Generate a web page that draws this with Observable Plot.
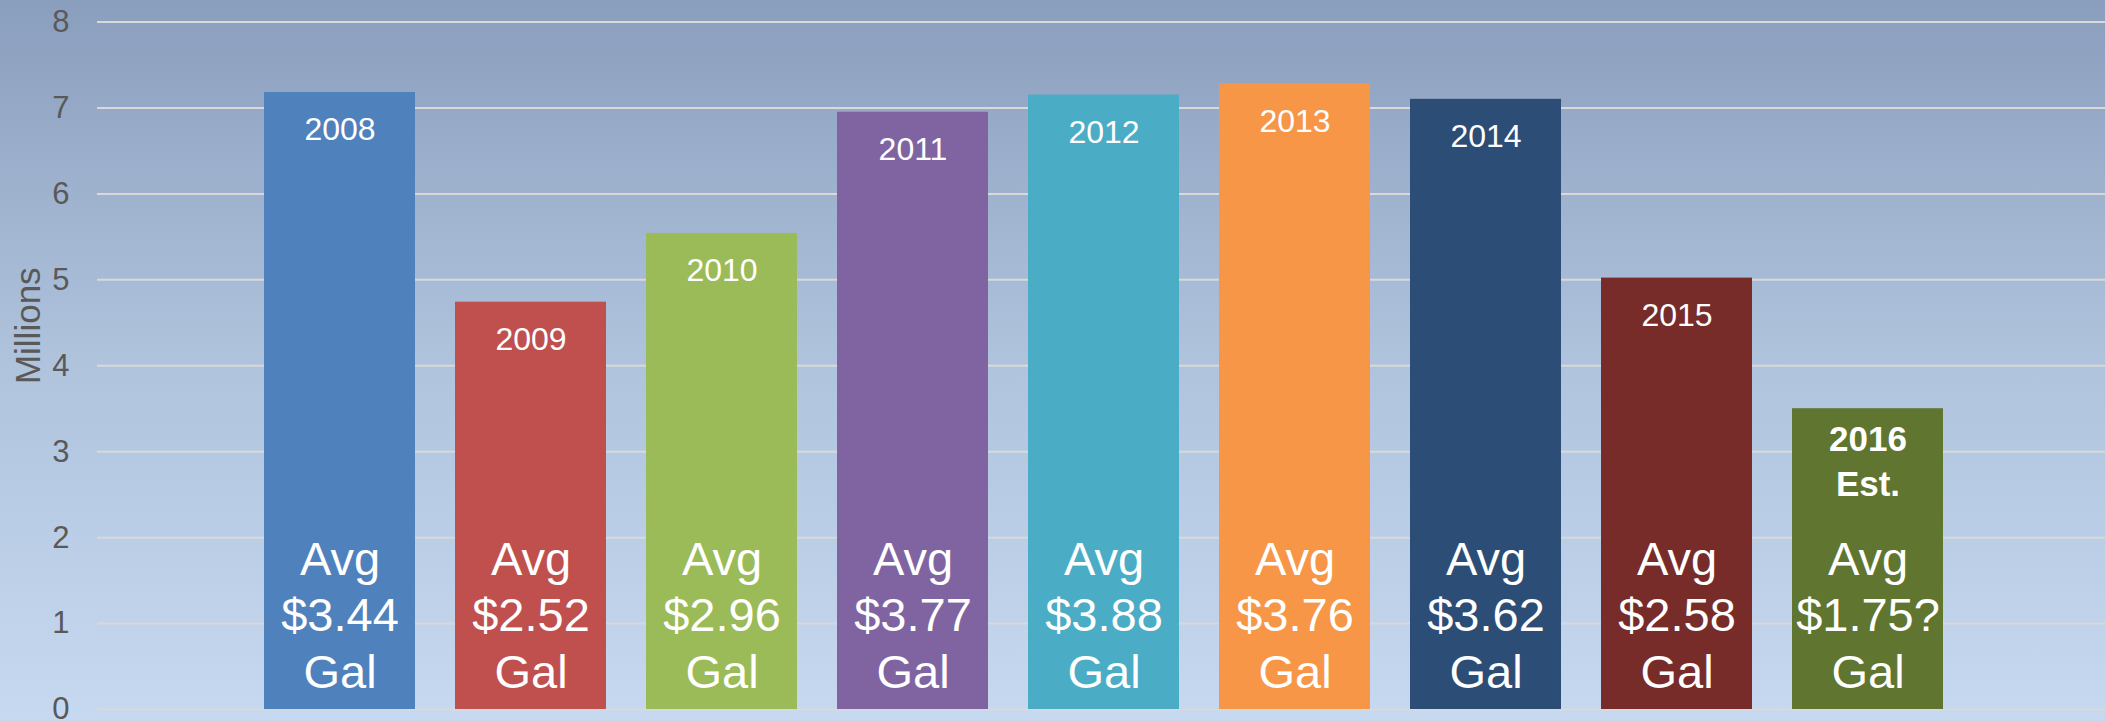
<!DOCTYPE html>
<html>
<head>
<meta charset="utf-8">
<script src="https://cdn.jsdelivr.net/npm/d3@7"></script>
<script src="https://cdn.jsdelivr.net/npm/@observablehq/plot@0.6"></script>
<style>
  html, body { margin: 0; padding: 0; background: #c5d8ee; }
</style>
</head>
<body>
<div id="chart"></div>
<script>
// ---- data ----
const years = ["2008", "2009", "2010", "2011", "2012", "2013", "2014", "2015", "2016"];
const gallons = [7.18, 4.74, 5.54, 6.95, 7.15, 7.28, 7.10, 5.02, 3.50]; // millions
const yearLabels = ["2008", "2009", "2010", "2011", "2012", "2013", "2014", "2015", "2016\nEst."];
const isEstimate = [false, false, false, false, false, false, false, false, true];
const avgPrices = ["$3.44", "$2.52", "$2.96", "$3.77", "$3.88", "$3.76", "$3.62", "$2.58", "$1.75?"];
const yTicks = [0, 1, 2, 3, 4, 5, 6, 7, 8];
const yLabel = "Millions";

// ---- styles ----
const palette = ["#4f81bd", "#c0504d", "#9bbb59", "#8064a2", "#4bacc6", "#f79646", "#2c4d75", "#772c2a", "#5f7530"];
const font = "'Liberation Sans', Arial, Helvetica, sans-serif";

const data = years.map((year, i) => ({
  year,
  value: gallons[i],
  label: yearLabels[i],
  estimate: isEstimate[i],
  price: `Avg\n${avgPrices[i]}\nGal`
}));

const chart = Plot.plot({
  width: 2105,
  height: 721,
  marginLeft: 97,
  marginRight: 0,
  marginTop: 21.5,
  marginBottom: 12,
  style: {
    background: "linear-gradient(to bottom, #8a9ebd 0%, #b0c3dd 50%, #c6d9f0 100%)",
    fontFamily: font,
    color: "#595959",
    overflow: "visible"
  },
  x: {domain: years, range: [241.75, 1965.25], paddingInner: 0.2115, paddingOuter: 0.10575, axis: null},
  y: {domain: [0, 8], axis: null},
  color: {domain: years, range: palette},
  marks: [
    Plot.ruleY(yTicks, {stroke: "#d9d9d9", strokeWidth: 2}),
    Plot.axisY(yTicks, {tickSize: 0, tickPadding: 28, fontSize: 31, label: null, tickFormat: d3.format("d")}),
    Plot.text([yLabel], {frameAnchor: "left", textAnchor: "middle", rotate: -90, dx: -69, dy: -40, fontSize: 35}),
    Plot.barY(data, {x: "year", y: "value", fill: "year"}),
    Plot.text(data.filter(d => !d.estimate), {
      x: "year", y: "value", text: "label", fill: "white",
      fontSize: 32, lineAnchor: "bottom", dy: 48
    }),
    Plot.text(data.filter(d => d.estimate), {
      x: "year", y: "value", text: "label", fill: "white",
      fontSize: 35, fontWeight: "bold", lineAnchor: "top", lineHeight: 1.29, dy: 10
    }),
    Plot.text(data, {
      x: "year", frameAnchor: "bottom", text: "price", fill: "white",
      fontSize: 47, lineHeight: 1.2, lineAnchor: "bottom", dy: -22
    })
  ]
});

document.getElementById("chart").appendChild(chart);
</script>
</body>
</html>
